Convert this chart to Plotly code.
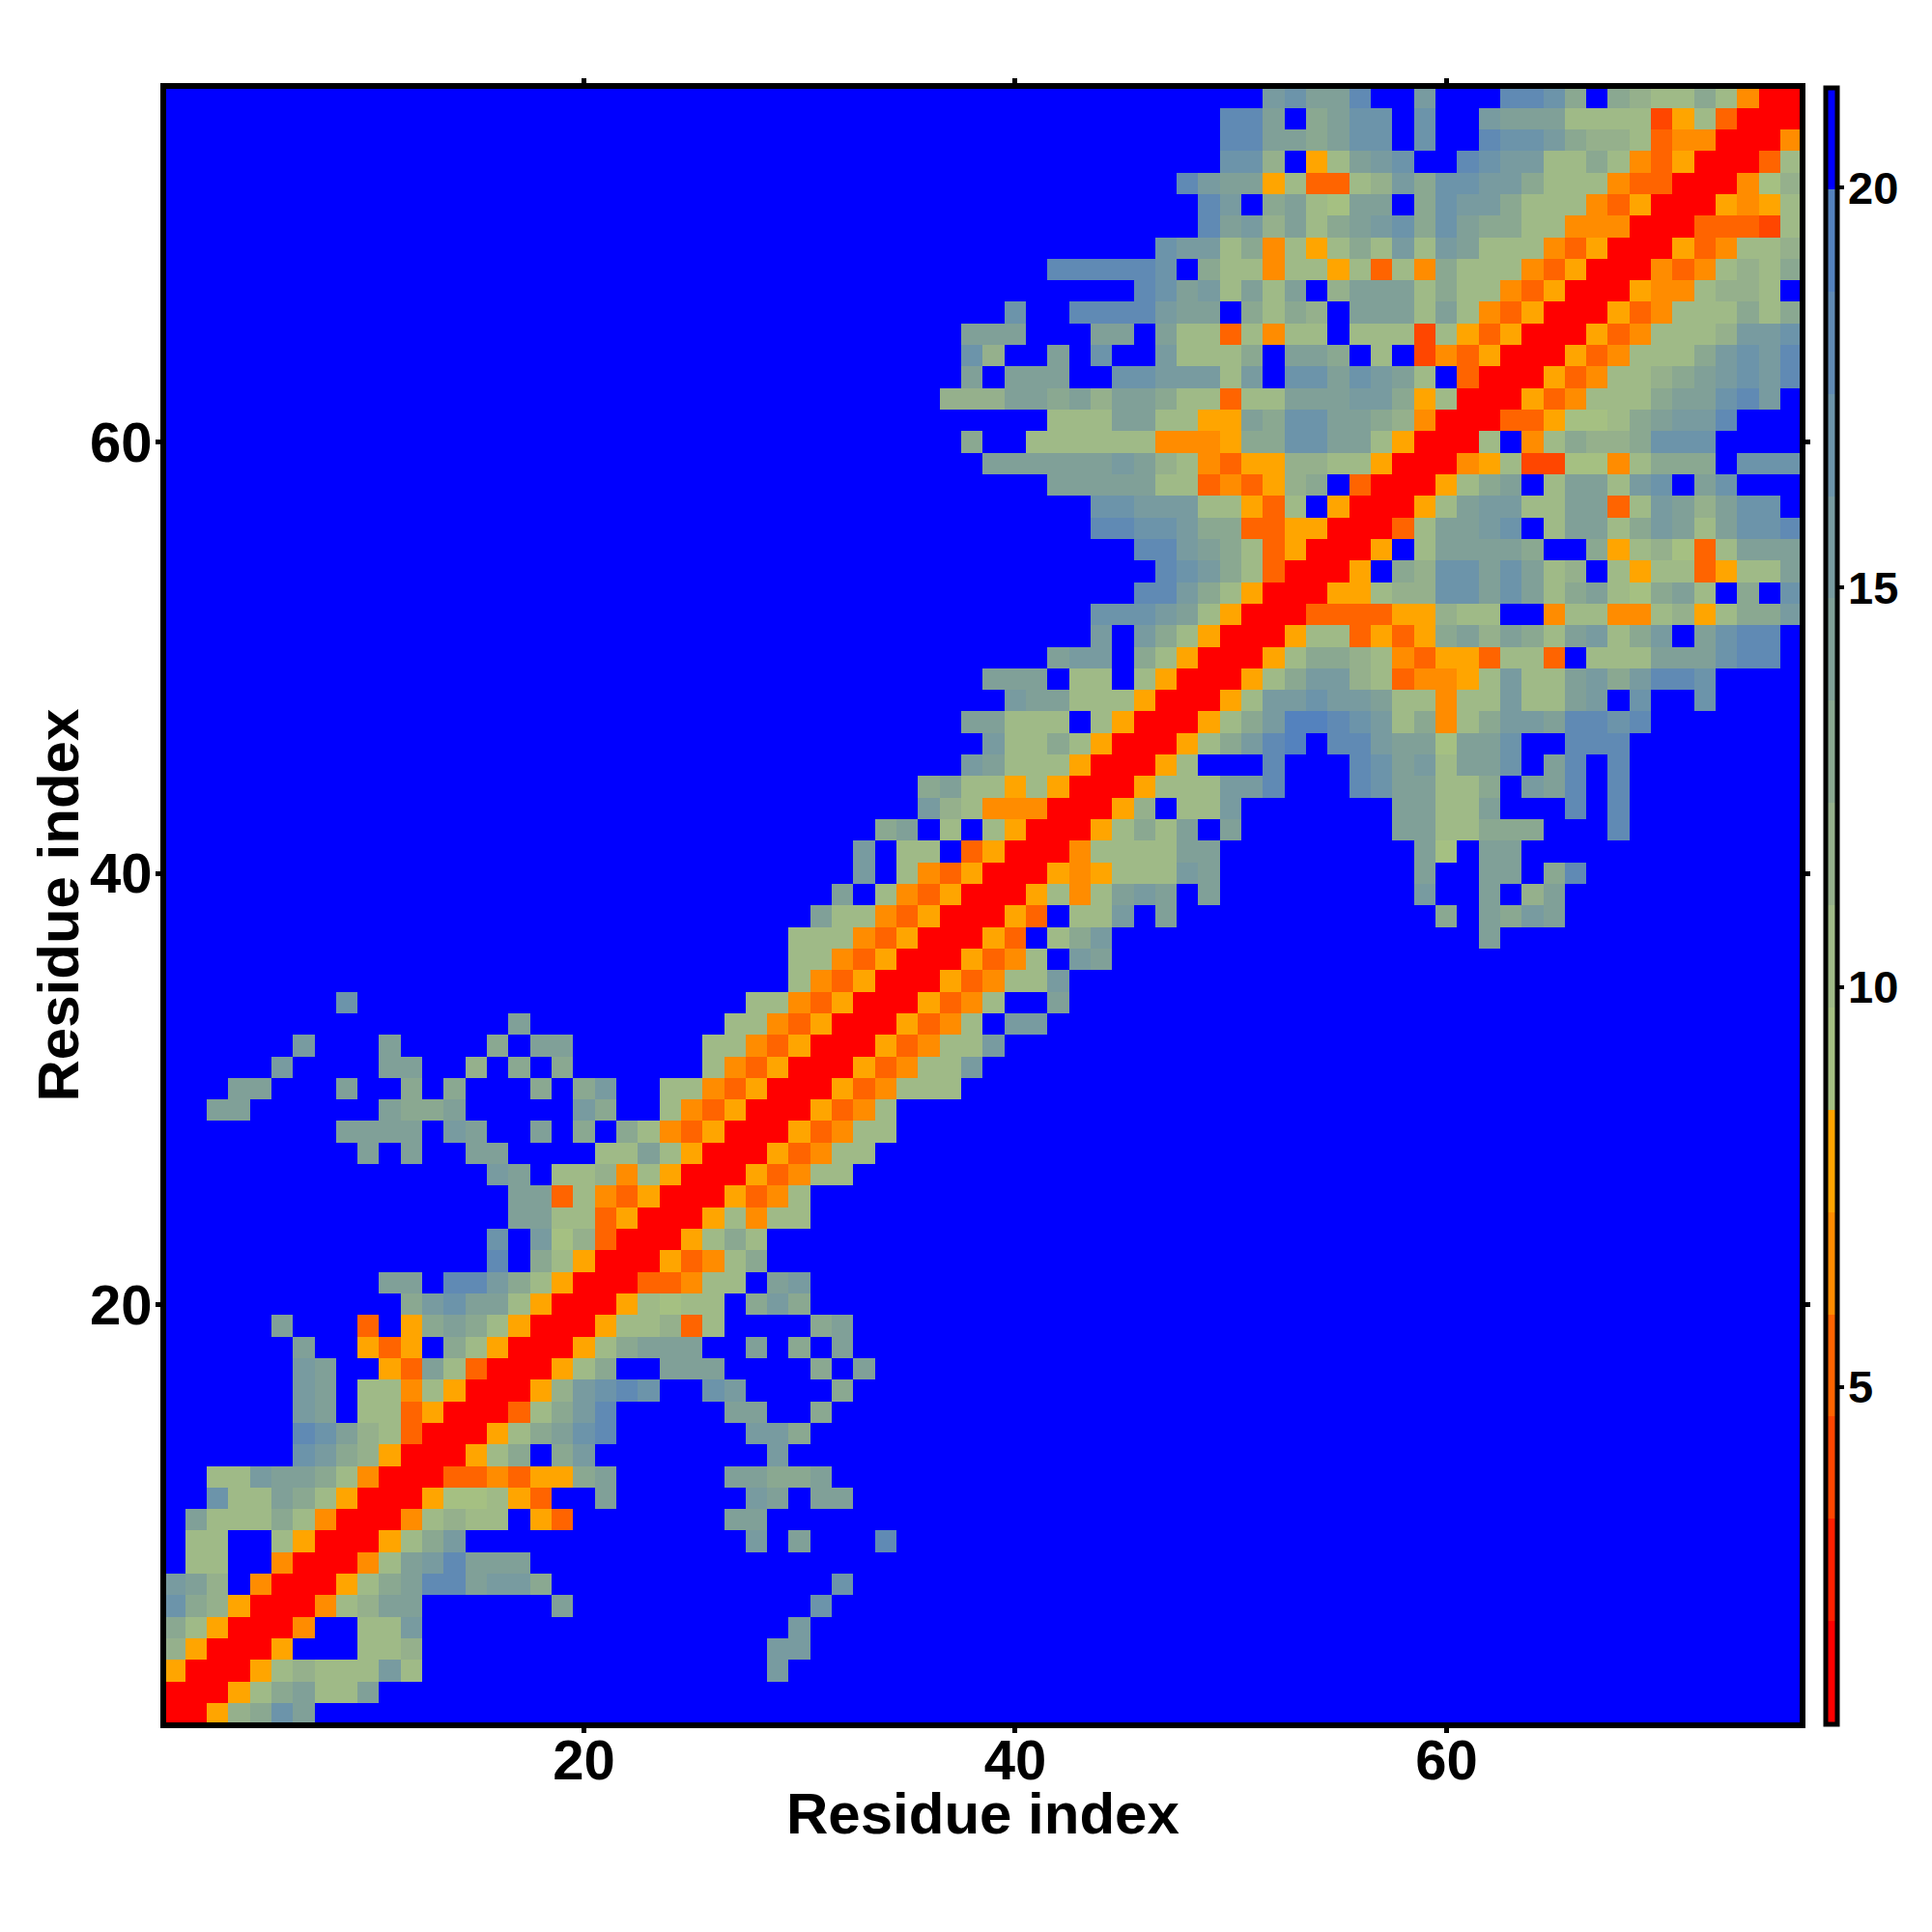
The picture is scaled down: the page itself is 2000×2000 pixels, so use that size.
import plotly.graph_objects as go

N_RESIDUES = 76
Z_MIN = 0.785
Z_MAX = 21.255

BAND_CODES = "123456789abcdef."
BAND_COLORS = [
    "#ff0000", "#ff2000", "#ff4600", "#ff6400", "#ff8c00", "#ffa500",
    "#a5c082", "#9fba87", "#95b08c", "#8aa891", "#80a098", "#789ba0",
    "#6c94aa", "#608ab4", "#5482be", "#0000ff",
]

# distance band per row (1 = bottom), as (first column, bands)
ROWS = {
 1: [(1, "1169adb")],
 2: [(1, "11168ab88b")],
 3: [(1, "6111689888c8"), (29, "c")],
 4: [(1, "961116...889"), (29, "cc")],
 5: [(1, "a861115..88c"), (30, "c")],
 6: [(1, "da96111589bb......b"), (31, "d")],
 7: [(1, "cb9.5 111 6 8ab ee b cc a"), (32, "d")],
 8: [(1, ".88..5 111 5 8bc e bbb")],
 9: [(1, ".88..86 111 6 8ac"), (28, "c"), (30, "b"), (34, "e")],
 10: [(1, ".b888a85 111 5 89 88 . 6 4"), (27, "bb")],
 11: [(1, "..d88ba86 111 6 77 8 6 4 .. b"), (28, "cb"), (31, "bb")],
 12: [(1, "..88cbba85 111 44 5 4 66 a b"), (27, "bbaab")],
 13: [(1, "......dca96 111 6 8 a . a c"), (29, "c")],
 14: [(1, "......edb98 4 111 6 8 a b d e"), (28, "cca")],
 15: [(1, "......cb.88 4 6 111 4 8 a c e"), (27, "bb"), (31, "a")],
 16: [(1, "......cb.88 5 8 6 111 6 9 c d e d"), (26, "dc"), (32, "a")],
 17: [(1, "......cb..6 4 b 8 4 111 6 8 a . . bbb"), (31, "a"), (33, "b")],
 18: [(1, "......b..6 4 6 . a 8 6 111 6 8 a b b b"), (28, "b"), (30, "a"), (32, "b")],
 19: [(1, ".....b...4.6 a b a 8 6 111 6 8 8 9 4 8"), (31, "ab")],
 20: [(1, "...........a c d b b 8 6 111 6 8 7 8 8 . a c a")],
 21: [(1, "..........bb.eeca8 6 111 4 4 5 8 8 . b c")],
 22: [(16, "e . a 8 6 111 6 4 5 8 a")],
 23: [(16, "d . c 7 9 4 111 6 8 a 8")],
 24: [(17, "b b 8 8 4 6 111 6 8 5 8 8")],
 25: [(17, "b b 4 8 5 4 6 111 6 4 5 8")],
 26: [(16, "c b . 8 8 9 5 8 6 111 6 4 5 8 8")],
 27: [(10, "b.b"), (15, "bb"), (21, "8 8 b 8 6 111 6 4 5 8 8")],
 28: [(9, "bbbb.cb..b.a.a 8 5 4 6 111 6 4 5 8 8")],
 29: [(3, "bb"), (11, "baab"), (20, "ca..8 5 4 6 111 6 4 5 8")],
 30: [(4, "bb"), (9, "b"), (12, "a.a"), (18, "a.ac"), (24, "8 8 5 4 6 111 6 4 5 8 8 8")],
 31: [(6, "c"), (11, "bb"), (15, "9.a.a"), (26, "8 5 4 6 111 6 4 5 8 8 c")],
 32: [(7, "c"), (11, "b"), (16, "a.bb"), (26, "8 8 5 4 6 111 6 4 5 8 8 c")],
 33: [(17, "b"), (27, "8 8 5 4 6 111 6 4 5 8 . c c")],
 34: [(9, "d"), (28, "8 8 5 4 6 111 6 4 5 8 . . b")],
 35: [(30, "8 5 4 6 111 6 4 5 8 8 c")],
 36: [(30, "8 8 5 4 6 111 6 4 5 8 . c b")],
 37: [(30, "8 8 8 5 4 6 111 6 4 . 8 a c"), (62, "b")],
 38: [(31, "b 8 8 5 4 6 111 6 4 . 8 8 c . b"), (60, "a"), (62, "b a c b")],
 39: [(32, "b . 8 5 4 6 111 6 8 5 8 b c b . b"), (59, "c"), (62, "b . 9 b")],
 40: [(33, "c . 8 5 4 6 111 6 5 6 8 8 8 c b"), (59, "b"), (62, "b b . a e")],
 41: [(33, "c . 8 8 . 4 6 111 5 8 8 8 8 b b"), (59, "b 7 . b b")],
 42: [(34, "a b . 8 . 8 6 111 6 8 a 8 b . b"), (58, "b b 8 8 a a a"), (68, "e")],
 43: [(36, "c 9 8 5 5 5 111 6 9 . 8 8 c"), (58, "b b 8 8 b"), (66, "e"), (68, "e")],
 44: [(36, "a b 8 8 6 8 6 111 6 8 8 8 c c e"), (56, "e d b b 8 8 a . c b e . e")],
 45: [(38, "c b 8 8 8 6 111 6 8 . . . e"), (56, "e d b c 8 b b d . b e . e")],
 46: [(39, "c 8 8 a 8 6 111 6 8 a c e f . e e c b b 7 b b d . . e e e")],
 47: [(38, "b b 8 8 8 . 8 6 111 6 8 a c f f e d c 8 a 5 8 a c c b e e d e")],
 48: [(40, "c b b 8 8 8 6 111 6 8 c c d c c b 8 8 5 8 8 c 8 8 b c . d . . d")],
 49: [(39, "b b b . 8 8 . 8 6 111 6 8 a c c 9 8 4 5 5 6 8 c 8 8 b c a c e e d")],
 50: [(42, "b c c . a 8 6 111 6 8 a a 9 8 5 4 6 6 4 8 8 4 . 8 8 8 b b b d e e")],
 51: [(44, "c . c a 8 6 111 6 8 8 4 6 4 6 a b 9 b a 8 b c 8 a c . b d e e")],
 52: [(44, "d d d c b 8 6 111 4 4 4 4 6 6 9 8 8 . . 5 8 8 5 5 8 9 6 8 a a c")],
 53: [(46, "e e c a 8 6 111 6 6 8 9 9 d d b d b 8 a b 8 7 a b 8 . a . d")],
 54: [(47, "e d c a 8 4 111 6 . a 9 d d b d b 8 9 . 8 6 8 8 4 6 8 8 b")],
 55: [(46, "e e c b a 8 4 6 111 6 . 8 b b b b a . . a 6 8 9 7 4 8 b b b")],
 56: [(44, "e e d d c a a 4 4 6 6 111 4 8 b b c d . 8 b b 8 a c b 8 b d d e")],
 57: [(44, "d d c c c 8 8 6 4 8 . 6 111 6 8 b c c 8 8 b b 4 8 c b 9 b d d")],
 58: [(42, "b b b b b 8 8 4 5 4 6 9 a . 4 111 6 8 a b . 8 b b 8 c d . b d")],
 59: [(39, "b b b b b b c b 9 8 5 4 6 6 9 9 8 8 6 111 5 6 8 3 3 7 7 5 8 a a a . d d d")],
 60: [(38, "a . . 8 8 8 8 8 8 5 5 5 6 a a d d b b 8 6 111 8 . 5 8 a 9 9 a d d d")],
 61: [(42, "8 8 8 b b 8 8 6 6 b a d d b b a 9 5 111 4 4 6 7 7 8 a b c c e")],
 62: [(37, "9 9 9 b b a b 9 b b a 8 8 4 8 8 b b b c c a 6 8 111 6 4 5 8 8 8 a b b d e c")],
 63: [(38, "b . b b b . . d d c c c 8 c . d d b d c b 8 . 4 111 6 4 5 8 8 9 a b c d c e")],
 64: [(38, "d 9 . . b . d . . c 8 8 8 a . b b a . 8 . 3 5 4 6 111 6 4 5 8 8 8 a c d c e")],
 65: [(38, "b b b . . . b b . b 8 8 4 8 5 8 8 . 8 8 8 3 8 6 4 6 111 6 4 5 8 8 8 9 c c d")],
 66: [(40, "d . . e e e e c b b . a 8 a 9 . b b b 8 b 8 5 4 6 111 6 4 5 8 8 8 a 8 a")],
 67: [(46, "e d b c 8 b 8 b . 9 b b b 8 a 8 8 5 4 6 111 6 5 5 8 9 9 8")],
 68: [(42, "e e e e e d . a 8 8 5 8 8 6 8 4 8 5 a 8 8 8 5 4 6 111 5 4 5 8 9 8 a")],
 69: [(47, "d c c 8 a 5 8 6 8 a 8 c 8 c b 8 8 8 5 4 6 111 6 4 5 8 8 9")],
 70: [(49, "e b c 9 b 8 a b c d a d b a a 8 8 5 5 5 111 4 4 4 3 8")],
 71: [(49, "e c . a b 8 7 b b . a d c c a 8 8 8 5 4 6 111 6 5 6 8")],
 72: [(48, "e c b b 6 8 4 4 8 9 c a d d c c a 8 8 8 5 4 4 111 5 7 9")],
 73: [(50, "d d 9 . 6 8 b c d . . e d c c 8 8 a 8 5 4 6 111 4 8")],
 74: [(50, "e e b b a b d d . d . . e d d c a 9 9 8 4 5 5 111 5")],
 75: [(50, "e e b . a b d d . d . . c b b b 8 8 8 8 3 6 8 4 111")],
 76: [(52, "c d b b e . . c . . . e e d a . a 9 8 8 a 8 5 1 1")],
}

AXIS_TICKS = [20, 40, 60]
BAR_TICKS = [5, 10, 15, 20]
AXIS_TITLE = "Residue index"

n_bands = len(BAND_CODES)
band_w = (Z_MAX - Z_MIN) / n_bands
blue_value = Z_MIN + (n_bands - 0.5) * band_w

z = [[blue_value] * N_RESIDUES for _ in range(N_RESIDUES)]
for row, segments in ROWS.items():
    for first, text in segments:
        codes = text.replace(" ", "")
        for k, ch in enumerate(codes):
            z[row - 1][first + k - 1] = Z_MIN + (BAND_CODES.index(ch) + 0.5) * band_w

colorscale = []
for i, c in enumerate(BAND_COLORS):
    colorscale.append([i / n_bands, c])
    colorscale.append([(i + 1) / n_bands, c])

FONT = "Liberation Sans"
BODY = 8  # the page's own margin
L, R, T, B = 172 - BODY, 1863 - BODY, 92 - BODY, 1783 - BODY
W, H = 1990, 1990
trim = 2.7 / 22.32
BAR_LEN = 1694
plot_w, plot_h = R - L, B - T

fig = go.Figure(go.Heatmap(
    z=z,
    x=list(range(1, N_RESIDUES + 1)),
    y=list(range(1, N_RESIDUES + 1)),
    colorscale=colorscale,
    zmin=Z_MIN, zmax=Z_MAX,
    xgap=0, ygap=0,
    colorbar=dict(
        thicknessmode="pixels", thickness=12,
        lenmode="pixels", len=BAR_LEN,
        x=1 + (1889.5 - BODY - R) / plot_w, xanchor="left",
        y=0.5, yanchor="middle",
        xpad=0, ypad=0,
        outlinecolor="black", outlinewidth=5,
        borderwidth=0,
        tickmode="array", tickvals=BAR_TICKS,
        ticks="outside", ticklen=5, tickwidth=4, tickcolor="black",
        showticklabels=False,
    ),
))

axis = dict(
    tickmode="array", tickvals=AXIS_TICKS,
    ticks="outside", ticklen=5, tickwidth=5, tickcolor="black",
    showline=True, linecolor="black", linewidth=6, mirror="allticks",
    showgrid=False, zeroline=False,
    range=[0.5 + trim, N_RESIDUES + 0.5 - trim],
    tickfont=dict(family=FONT, size=58, color="black", weight=700),
)
fig.update_xaxes(**axis, ticklabelstandoff=-22)
fig.update_yaxes(**axis, ticklabelstandoff=-8)

title_font = dict(family=FONT, size=60, color="black", weight=700)
annotations = [
    dict(text=AXIS_TITLE, xref="paper", yref="paper", showarrow=False,
         x=0.5, y=(B - (1877 - BODY)) / plot_h, xanchor="center", yanchor="middle",
         font=title_font),
    dict(text=AXIS_TITLE, xref="paper", yref="paper", showarrow=False, textangle=-90,
         x=(60 - BODY - L) / plot_w, y=0.5, xanchor="center", yanchor="middle",
         font=title_font),
]
mid = (Z_MIN + Z_MAX) / 2
for v in BAR_TICKS:
    annotations.append(dict(
        text=str(v), xref="paper", yref="paper", showarrow=False,
        x=1 + (1911 - BODY - R) / plot_w, xanchor="left",
        y=0.5 + (v - mid) / (Z_MAX - Z_MIN) * BAR_LEN / plot_h, yanchor="middle",
        font=dict(family=FONT, size=47, color="black", weight=700),
    ))

fig.update_layout(
    width=W, height=H, autosize=False,
    margin=dict(l=L, r=W - R, t=T, b=H - B, pad=0, autoexpand=False),
    paper_bgcolor="white", plot_bgcolor="white",
    annotations=annotations,
)
fig.write_html("out.html")
